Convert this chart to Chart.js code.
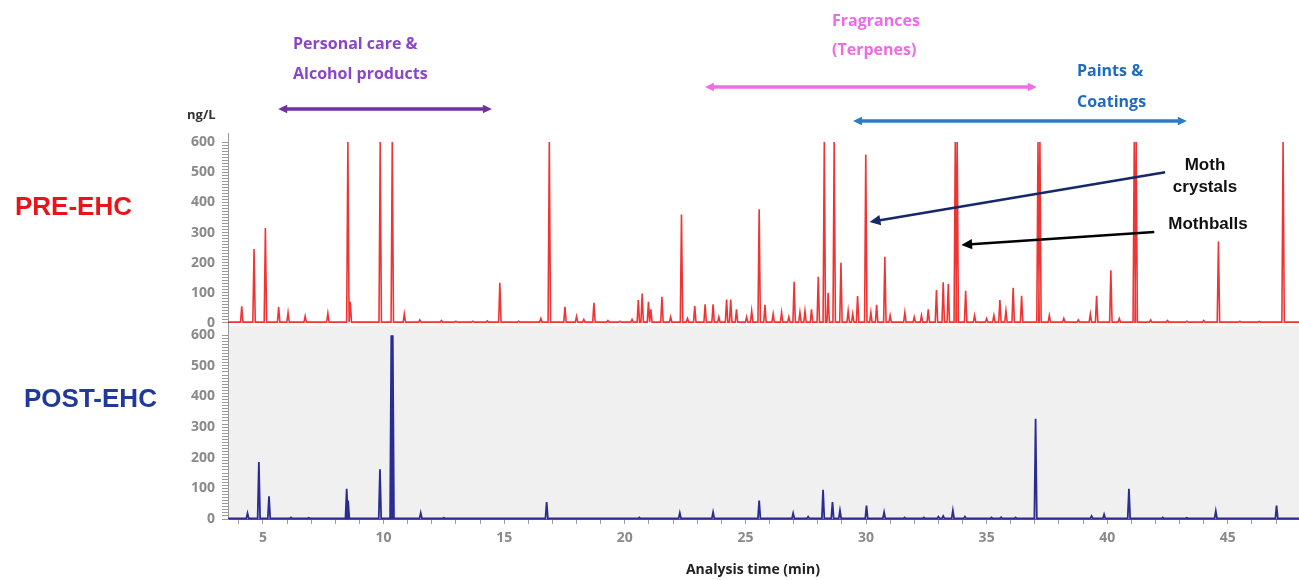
<!DOCTYPE html>
<html>
<head>
<meta charset="utf-8">
<script src="https://cdn.jsdelivr.net/npm/chart.js@4.4.1/dist/chart.umd.min.js"></script>
<style>
    body { margin: 0; background: #fff; }
    #wrap { position: relative; width: 1299px; height: 580px; overflow: hidden; }
    #chart { position: absolute; left: 0; top: 0; }
    .txt { position: absolute; white-space: nowrap; font-family: "Open Sans", sans-serif; font-weight: 700; }
    .side { font-family: "Liberation Sans", Arial, sans-serif; font-size: 26px; line-height: 30px; }
    .note { font-family: "Liberation Sans", Arial, sans-serif; font-size: 17px; line-height: 22px; text-align: center; color: #111; }
</style>
</head>
<body>
<div id="wrap">
    <canvas id="chart" width="1299" height="580"></canvas>

    <div class="txt" style="left:293px; top:28px; font-size:16px; line-height:30px; color:#8a45c8;">Personal care &amp;<br>Alcohol products</div>
    <div class="txt" style="left:832px; top:6px; font-size:16px; line-height:29px; color:#ee6be6;">Fragrances<br>(Terpenes)</div>
    <div class="txt" style="left:1077px; top:55px; font-size:16px; line-height:31px; color:#1f6bbf;">Paints &amp;<br>Coatings</div>

    <div class="txt" style="left:187px; top:104px; font-size:13px; line-height:20px; color:#333;">ng/L</div>

    <div class="txt side" style="left:15px; top:191px; color:#e8141c;">PRE-EHC</div>
    <div class="txt side" style="left:24px; top:383px; color:#1f3a99;">POST-EHC</div>

    <div class="txt note" style="left:1165px; top:154px; width:80px;">Moth<br>crystals</div>
    <div class="txt note" style="left:1158px; top:213px; width:100px;">Mothballs</div>

    <div class="txt" style="left:673px; top:558px; width:160px; text-align:center; font-size:14px; line-height:22px; color:#222;">Analysis time (min)</div>
</div>

<script>
// ----------------------------------------------------------
// DATA (retention time in min, concentration in ng/L)
// ----------------------------------------------------------
const preTimes = [
    4.12, 4.63, 5.10, 5.65, 6.04, 6.75, 7.69, 8.52, 8.62, 9.86,
    10.36, 10.86, 11.5, 12.4, 13.0, 13.7, 14.3, 14.82, 15.6, 16.52,
    16.87, 17.52, 18.0, 18.3, 18.72, 19.3, 19.8, 20.3, 20.56, 20.72,
    20.98, 21.08, 21.54, 21.9, 22.35, 22.6, 22.9, 23.33, 23.66, 23.9,
    24.22, 24.39, 24.63, 25.05, 25.26, 25.57, 25.81, 26.15, 26.5, 26.8,
    27.02, 27.26, 27.47, 27.74, 28.02, 28.27, 28.43, 28.68, 28.96, 29.26,
    29.45, 29.65, 29.99, 30.2, 30.44, 30.78, 31.0, 31.61, 32.0, 32.3,
    32.58, 32.92, 33.2, 33.41, 33.70, 33.78, 34.13, 34.5, 35.0, 35.3,
    35.55, 35.8, 36.1, 36.45, 37.13, 37.21, 37.6, 38.2, 38.8, 39.3,
    39.56, 40.15, 40.5, 41.12, 41.20, 41.8, 42.5, 43.3, 44.0, 44.61,
    45.5, 46.3, 47.29
];
const preValues = [
    55, 245, 315, 53, 34, 23, 32, 600, 70, 600,
    600, 30, 10, 8, 6, 6, 7, 133, 6, 15,
    600, 54, 22, 12, 67, 8, 6, 12, 76, 98,
    70, 45, 87, 20, 360, 15, 56, 62, 62, 20,
    78, 78, 45, 20, 40, 377, 60, 30, 35, 20,
    137, 35, 40, 45, 153, 600, 100, 600, 200, 40,
    30, 89, 559, 35, 60, 220, 25, 35, 20, 25,
    45, 109, 135, 129, 600, 600, 107, 25, 15, 25,
    76, 40, 117, 90, 600, 600, 25, 15, 10, 30,
    90, 175, 15, 600, 600, 10, 8, 6, 8, 270,
    6, 5, 600
];

const postTimes = [
    4.36, 4.83, 5.25, 6.16, 6.9, 8.47, 8.53, 9.85, 10.32, 10.38,
    11.54, 12.5, 16.76, 20.6, 22.28, 23.66, 25.57, 26.98, 27.6, 28.22,
    28.61, 28.92, 30.02, 30.75, 31.6, 32.4, 33.0, 33.2, 33.6, 34.1,
    35.2, 35.6, 36.2, 37.03, 39.35, 39.87, 40.9, 42.3, 43.3, 44.5,
    47.02
];
const postValues = [
    19, 186, 74, 5, 4, 99, 60, 162, 600, 600,
    20, 4, 55, 5, 20, 22, 60, 19, 8, 95,
    55, 28, 44, 22, 5, 5, 8, 10, 28, 8,
    5, 6, 5, 327, 10, 15, 99, 5, 4, 26,
    44
];

const xTickLabels = [5, 10, 15, 20, 25, 30, 35, 40, 45];
const yTickLabels = [0, 100, 200, 300, 400, 500, 600];

// ----------------------------------------------------------
// LAYOUT CONSTANTS
// ----------------------------------------------------------
const X_MIN = 3.55, X_MAX = 47.95;
const PEAK_HALF = 0.05;
const AXIS_GREY = "#9a9a9a";

// turn peak list into a chromatogram trace
function buildTrace(times, values, base) {
    const pts = [{ x: X_MIN, y: base }];
    times.forEach((t, i) => {
        pts.push({ x: t - PEAK_HALF, y: base });
        pts.push({ x: t, y: values[i] });
        pts.push({ x: t + PEAK_HALF, y: base });
    });
    pts.push({ x: X_MAX, y: base });
    return pts;
}

function yAxis(min, max) {
    return {
        type: "linear",
        position: "left",
        stack: "panels",
        stackWeight: 1,
        min: min,
        max: max,
        afterFit: (s) => { s.width = 228; },
        afterBuildTicks: (s) => {
            s.ticks = s.ticks.filter(t => t.value >= 0 && t.value <= 600);
        },
        grid: { drawOnChartArea: false, tickLength: 6, color: AXIS_GREY, tickColor: AXIS_GREY },
        border: { display: true, color: AXIS_GREY },
        ticks: {
            stepSize: 10,
            autoSkip: false,
            padding: 7,
            color: "#8a8a8a",
            font: { family: "Open Sans", size: 14, weight: "bold" },
            callback: (v) => yTickLabels.includes(v) ? String(v) : ""
        }
    };
}

// ----------------------------------------------------------
// PLUGINS
// ----------------------------------------------------------
const panelBg = {
    id: "panelBg",
    beforeDraw(chart) {
        const { ctx, chartArea } = chart;
        const yb = chart.scales.yBot;
        ctx.save();
        ctx.fillStyle = "#f0f0f0";
        ctx.fillRect(chartArea.left, yb.top, chartArea.right - chartArea.left, yb.bottom - yb.top);
        ctx.restore();
    }
};

function arrowHead(ctx, x1, y1, x2, y2, size) {
    const a = Math.atan2(y2 - y1, x2 - x1);
    ctx.beginPath();
    ctx.moveTo(x2, y2);
    ctx.lineTo(x2 - size * Math.cos(a - 0.45), y2 - size * Math.sin(a - 0.45));
    ctx.lineTo(x2 - size * Math.cos(a + 0.45), y2 - size * Math.sin(a + 0.45));
    ctx.closePath();
    ctx.fill();
}

const annotations = {
    id: "annotations",
    afterDraw(chart) {
        const { ctx } = chart;
        const x = chart.scales.x, yTop = chart.scales.yTop;

        // compound-class ranges (double headed)
        const ranges = [
            { from: 5.63, to: 14.49, y: 109, color: "#7030a0" },
            { from: 23.32, to: 37.08, y: 87, color: "#f06de8" },
            { from: 29.46, to: 43.30, y: 121, color: "#2a7cc8" }
        ];
        ranges.forEach(r => {
            const x1 = x.getPixelForValue(r.from), x2 = x.getPixelForValue(r.to);
            ctx.save();
            ctx.strokeStyle = r.color;
            ctx.fillStyle = r.color;
            ctx.lineWidth = 3.5;
            ctx.beginPath();
            ctx.moveTo(x1 + 4, r.y);
            ctx.lineTo(x2 - 4, r.y);
            ctx.stroke();
            arrowHead(ctx, x2 - 10, r.y, x2, r.y, 10);
            arrowHead(ctx, x1 + 10, r.y, x1, r.y, 10);
            ctx.restore();
        });

        // pointers to the moth products
        const pointers = [
            { t0: 42.4, v0: 500, t1: 30.15, v1: 335, color: "#14286a" },
            { t0: 41.95, v0: 302, t1: 33.95, v1: 259, color: "#000000" }
        ];
        pointers.forEach(p => {
            const x0 = x.getPixelForValue(p.t0), y0 = yTop.getPixelForValue(p.v0);
            const x1 = x.getPixelForValue(p.t1), y1 = yTop.getPixelForValue(p.v1);
            const back = Math.atan2(y0 - y1, x0 - x1);
            ctx.save();
            ctx.strokeStyle = p.color;
            ctx.fillStyle = p.color;
            ctx.lineWidth = 2.5;
            ctx.beginPath();
            ctx.moveTo(x0, y0);
            ctx.lineTo(x1 + 6 * Math.cos(back), y1 + 6 * Math.sin(back));
            ctx.stroke();
            arrowHead(ctx, x0, y0, x1, y1, 12);
            ctx.restore();
        });
    }
};

// ----------------------------------------------------------
// CHART
// ----------------------------------------------------------
const ctx = document.getElementById("chart").getContext("2d");
const chart = new Chart(ctx, {
    type: "line",
    data: {
        datasets: [
            {
                label: "PRE-EHC",
                data: buildTrace(preTimes, preValues, 3),
                yAxisID: "yTop",
                borderColor: "rgba(238, 30, 30, 0.9)",
                borderWidth: 1.6,
                pointRadius: 0,
                tension: 0
            },
            {
                label: "POST-EHC",
                data: buildTrace(postTimes, postValues, 2),
                yAxisID: "yBot",
                borderColor: "#2b2b96",
                borderWidth: 1.8,
                pointRadius: 0,
                tension: 0
            }
        ]
    },
    options: {
        responsive: false,
        animation: false,
        parsing: false,
        layout: { padding: { top: 133, right: 0, bottom: 0, left: 0 } },
        plugins: { legend: { display: false }, tooltip: { enabled: false } },
        scales: {
            x: {
                type: "linear",
                min: X_MIN,
                max: X_MAX,
                afterFit: (s) => { s.height = 61; s.paddingLeft = 0; s.paddingRight = 0; },
                grid: { drawOnChartArea: false, tickLength: 5, color: AXIS_GREY, tickColor: AXIS_GREY },
                border: { display: true, color: "#555" },
                ticks: {
                    stepSize: 1,
                    autoSkip: false,
                    includeBounds: false,
                    maxRotation: 0,
                    padding: 6,
                    color: "#8a8a8a",
                    font: { family: "Open Sans", size: 14, weight: "bold" },
                    callback: (v) => xTickLabels.includes(v) ? String(v) : ""
                }
            },
            // stacked panels: the first one listed is drawn lowest
            yBot: yAxis(0, 630),
            yTop: yAxis(-10, 630)
        }
    },
    plugins: [panelBg, annotations]
});
</script>
</body>
</html>
